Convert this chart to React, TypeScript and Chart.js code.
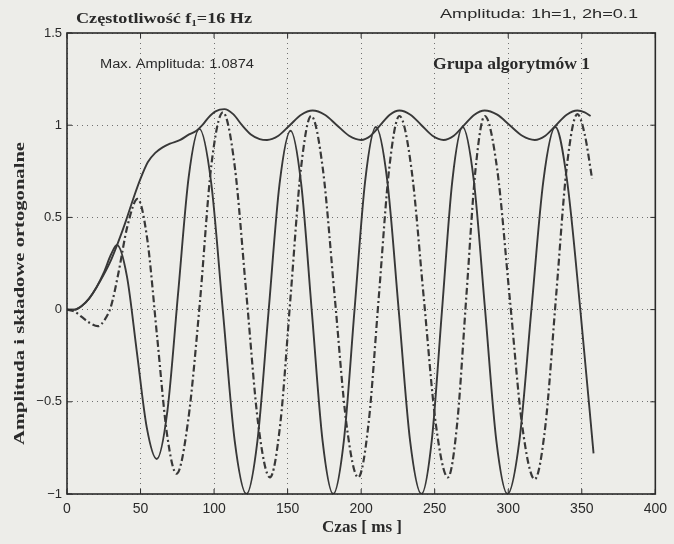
import React, { useEffect, useRef } from "react";
import { Chart, registerables } from "chart.js";

Chart.register(...registerables);

// ---- data ----
const xTicks = [0, 50, 100, 150, 200, 250, 300, 350, 400];
const yTicks = [-1, -0.5, 0, 0.5, 1, 1.5];

// solid orthogonal component
const componentTime = [
  0, 5, 10, 15, 20, 25, 30, 34, 40.75, 47.5, 54.25, 61, 68.25, 75.5, 82.75, 90,
  98, 106, 114, 122, 129.5, 137, 144.5, 152, 159.25, 166.5, 173.75, 181,
  188.25, 195.5, 202.75, 210, 217.75, 225.5, 233.25, 241, 248, 255, 262, 269,
  276.6, 284.25, 291.9, 299.5, 307.6, 315.75, 323.9, 332, 340, 349, 358,
];
const componentValues = [
  0, 0, 0.02, 0.06, 0.12, 0.2, 0.3, 0.35, 0.18, -0.23, -0.64, -0.81, -0.55,
  0.085, 0.72, 0.98, 0.69, -0.01, -0.71, -1, -0.71, -0.015, 0.68, 0.97, 0.68,
  -0.015, -0.71, -1, -0.71, 0, 0.7, 0.99, 0.7, 0, -0.71, -1, -0.71, 0, 0.7,
  0.99, 0.7, 0, -0.71, -1, -0.71, 0, 0.7, 0.99, 0.7, 0, -0.78,
];

// dash-dot orthogonal component
const quadratureTime = [
  0, 5, 10, 15, 21, 26, 30, 35, 41, 48, 54.6, 61.25, 67.9, 74.5, 82.4, 90.25,
  98.1, 106, 114, 122, 130, 138, 145, 152, 159, 166, 174, 182, 190, 198, 205,
  212, 219, 226, 234.25, 242.5, 250.75, 259, 265.25, 271.5, 277.75, 284,
  292.5, 301, 309.5, 318, 325.25, 332.5, 339.75, 347, 352, 357,
];
const quadratureValues = [
  0, -0.01, -0.04, -0.07, -0.09, -0.05, 0.02, 0.2, 0.45, 0.6, 0.38, -0.145,
  -0.67, -0.89, -0.6, 0.03, 0.78, 1.07, 0.78, 0.08, -0.62, -0.91, -0.62, 0.07,
  0.76, 1.05, 0.76, 0.07, -0.62, -0.91, -0.62, 0.07, 0.76, 1.05, 0.76, 0.07,
  -0.62, -0.91, -0.62, 0.07, 0.76, 1.05, 0.76, 0.065, -0.63, -0.92, -0.63,
  0.07, 0.77, 1.06, 0.95, 0.71,
];

// solid amplitude (envelope)
const amplitudeTime = [
  0, 5, 10, 15, 20, 25, 30, 35, 40, 45, 50, 55, 60, 65, 70, 77, 83, 88, 92, 96,
  101, 107, 113, 119, 125, 131, 136, 143.75, 151.5, 159.25, 167, 175.25,
  183.5, 191.75, 200, 206.5, 213, 219.5, 226, 233.5, 241, 248.5, 256, 263,
  270, 277, 284, 292.5, 301, 309.5, 318, 325.25, 332.5, 339.75, 347, 352, 356,
];
const amplitudeValues = [
  0, 0, 0.02, 0.06, 0.12, 0.19, 0.27, 0.37, 0.48, 0.6, 0.71, 0.8, 0.85, 0.88,
  0.9, 0.92, 0.95, 0.97, 1.0, 1.04, 1.075, 1.087, 1.06, 1.0, 0.95, 0.925, 0.92,
  0.943, 1.0, 1.057, 1.08, 1.057, 1.0, 0.943, 0.92, 0.943, 1.0, 1.057, 1.08,
  1.057, 1.0, 0.943, 0.92, 0.943, 1.0, 1.057, 1.08, 1.057, 1.0, 0.943, 0.92,
  0.943, 1.0, 1.057, 1.08, 1.07, 1.05,
];

const BG = "#edede9";
const INK = "#2a2a2a";
const LINE = "#383838";

const toPoints = (t: number[], v: number[]) => t.map((x, i) => ({ x, y: v[i] }));

// draw text stretched horizontally to a given width
function fitText(ctx: CanvasRenderingContext2D, text: string, x: number, y: number, width: number, font: string) {
  ctx.save();
  ctx.font = font;
  ctx.textAlign = "left";
  const w = ctx.measureText(text).width;
  const s = width / w;
  ctx.translate(x, y);
  ctx.scale(s, 1);
  ctx.fillText(text, 0, 0);
  ctx.restore();
}

const decor = {
  id: "decor",
  beforeDraw(chart: any) {
    const ctx = chart.ctx;
    ctx.save();
    ctx.fillStyle = BG;
    ctx.fillRect(0, 0, chart.width, chart.height);
    ctx.restore();
  },
  afterDatasetsDraw(chart: any) {
    const { ctx, chartArea: a, scales } = chart;
    ctx.save();
    ctx.strokeStyle = INK;
    ctx.lineWidth = 1.6;
    ctx.strokeRect(a.left, a.top, a.right - a.left, a.bottom - a.top);
    ctx.lineWidth = 1;
    ctx.beginPath();
    xTicks.forEach((t) => {
      const px = scales.x.getPixelForValue(t);
      ctx.moveTo(px, a.bottom);
      ctx.lineTo(px, a.bottom - 5);
      ctx.moveTo(px, a.top);
      ctx.lineTo(px, a.top + 5);
    });
    yTicks.forEach((t) => {
      const py = scales.y.getPixelForValue(t);
      ctx.moveTo(a.left, py);
      ctx.lineTo(a.left + 5, py);
      ctx.moveTo(a.right, py);
      ctx.lineTo(a.right - 5, py);
    });
    ctx.stroke();
    ctx.restore();
  },
  afterDraw(chart: any) {
    const ctx = chart.ctx as CanvasRenderingContext2D;
    ctx.save();
    ctx.fillStyle = INK;
    ctx.textBaseline = "alphabetic";
    fitText(ctx, "Częstotliwość f₁=16 Hz", 76, 23, 176, "bold 15px 'Liberation Serif'");
    fitText(ctx, "Amplituda: 1h=1, 2h=0.1", 440, 18, 198, "12px 'Liberation Sans'");
    fitText(ctx, "Max. Amplituda: 1.0874", 100, 68, 154, "12.5px 'Liberation Sans'");
    fitText(ctx, "Grupa algorytmów 1", 433, 69, 157, "bold 16px 'Liberation Serif'");
    fitText(ctx, "Czas [ ms ]", 322, 532, 80, "bold 16px 'Liberation Serif'");
    ctx.save();
    ctx.translate(24, 445);
    ctx.rotate(-Math.PI / 2);
    fitText(ctx, "Amplituda i składowe ortogonalne", 0, 0, 303, "bold 15px 'Liberation Serif'");
    ctx.restore();
    ctx.restore();
  },
};

export default function App() {
  const ref = useRef<HTMLCanvasElement | null>(null);
  useEffect(() => {
    document.body.style.margin = "0";
    document.body.style.background = BG;
    const canvas = ref.current!;
    const chart = new Chart(canvas, {
      type: "line",
      data: {
        datasets: [
          {
            data: toPoints(amplitudeTime, amplitudeValues),
            borderColor: LINE,
            borderWidth: 1.9,
            pointRadius: 0,
            cubicInterpolationMode: "monotone",
          },
          {
            data: toPoints(componentTime, componentValues),
            borderColor: LINE,
            borderWidth: 1.9,
            pointRadius: 0,
            cubicInterpolationMode: "monotone",
          },
          {
            data: toPoints(quadratureTime, quadratureValues),
            borderColor: LINE,
            borderWidth: 2.2,
            borderDash: [7, 3, 2, 3],
            pointRadius: 0,
            cubicInterpolationMode: "monotone",
          },
        ],
      },
      options: {
        animation: false,
        responsive: false,
        devicePixelRatio: 1,
        layout: { padding: { top: 33, right: 15, left: 0, bottom: 0 } },
        plugins: { legend: { display: false }, tooltip: { enabled: false } },
        scales: {
          x: {
            type: "linear",
            min: 0,
            max: 400,
            afterBuildTicks: (s: any) => {
              s.ticks = xTicks.map((v) => ({ value: v }));
            },
            afterFit: (s: any) => {
              s.height = 50;
            },
            ticks: {
              color: INK,
              font: { family: "'Liberation Sans'", size: 14 },
              padding: 7,
              maxRotation: 0,
            },
            grid: { color: "#707070", lineWidth: 1, drawTicks: false },
            border: { display: false, dash: [1, 4] },
          },
          y: {
            type: "linear",
            min: -1,
            max: 1.5,
            afterBuildTicks: (s: any) => {
              s.ticks = yTicks.map((v) => ({ value: v }));
            },
            afterFit: (s: any) => {
              s.width = 67;
            },
            ticks: {
              color: INK,
              font: { family: "'Liberation Sans'", size: 13 },
              padding: 5,
              callback: (v: any) => (Number(v) < 0 ? "−" + Math.abs(Number(v)) : String(v)),
            },
            grid: { color: "#707070", lineWidth: 1, drawTicks: false },
            border: { display: false, dash: [1, 4] },
          },
        },
      },
      plugins: [decor],
    } as any);
    return () => chart.destroy();
  }, []);
  return (
    <div style={{ position: "absolute", left: 0, top: 0, width: 674, height: 544, background: BG }}>
      <canvas ref={ref} width={674} height={544} style={{ width: 674, height: 544, display: "block" }} />
    </div>
  );
}
